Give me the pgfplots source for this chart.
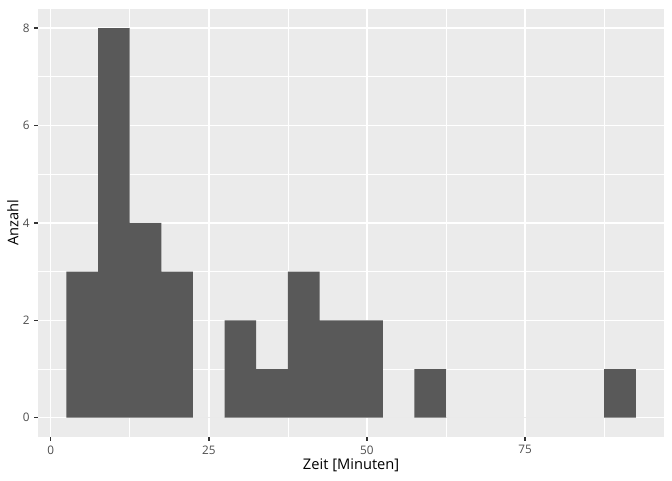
\documentclass[border=0pt]{standalone}
\usepackage{pgfplots}
\pgfplotsset{compat=1.18}
\usepackage{fontspec}
\setmainfont{Open Sans}
\definecolor{panelbg}{HTML}{EBEBEB}
\definecolor{barfill}{HTML}{595959}
\definecolor{ticklab}{HTML}{4D4D4D}
\definecolor{tickcol}{HTML}{333333}
\begin{document}
\begin{tikzpicture}
\path[use as bounding box] (-28.5pt,-32.1pt) rectangle (475.5pt,327.9pt);
\begin{axis}[
  at={(0,0)}, anchor=south west,
  scale only axis,
  width=469.7pt, height=321.5pt,
  xmin=-2, xmax=97,
  ymin=-0.4, ymax=8.4,
  axis line style={draw=none},
  axis background/.style={fill=panelbg},
  xtick={0,25,50,75},
  ytick={0,2,4,6,8},
  minor xtick={12.5,37.5,62.5,87.5},
  minor ytick={1,3,5,7},
  grid=both,
  major grid style={white, line width=1.07pt},
  minor grid style={white, line width=0.53pt},
  tick align=outside,
  tick pos=left,
  major tick length=2.75pt,
  minor tick length=0pt,
  tick style={tickcol, line width=1.07pt},
  /pgf/number format/assume math mode=true,
  ticklabel style={font=\fontsize{8.8}{10}\selectfont, text=ticklab},
  xlabel={Zeit [Minuten]},
  ylabel={Anzahl},
  label style={font=\fontsize{11}{13}\selectfont},
  xlabel style={at={(axis description cs:0.5,-0.075)}, anchor=base},
  ylabel style={at={(axis description cs:-0.0315,0.5)}, anchor=base},
]
\addplot[ybar interval, fill=barfill, draw=none] coordinates {
(2.5,3) (7.5,8) (12.5,4) (17.5,3) (22.5,0) (27.5,2) (32.5,1) (37.5,3)
(42.5,2) (47.5,2) (52.5,0) (57.5,1) (62.5,0) (67.5,0) (72.5,0) (77.5,0)
(82.5,0) (87.5,1) (92.5,1)
};
\end{axis}
\end{tikzpicture}
\end{document}
